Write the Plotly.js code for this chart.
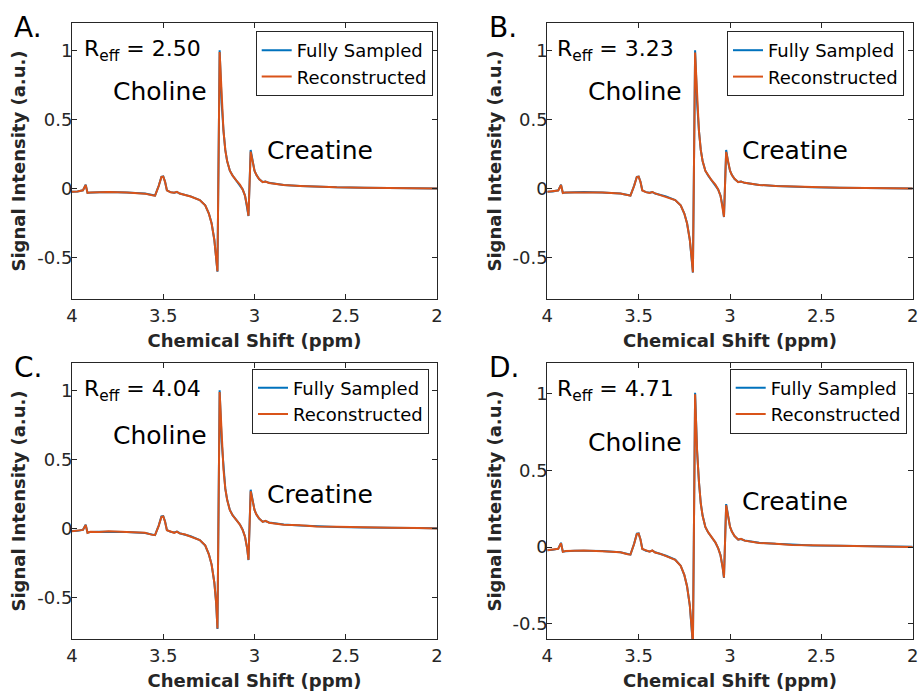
<!DOCTYPE html>
<html>
<head>
<meta charset="utf-8">
<script src="https://cdn.plot.ly/plotly-3.0.1.min.js"></script>
<style>html,body{margin:0;padding:0;background:#fff;}#chart{width:919px;height:691px;}</style>
</head>
<body>
<div id="chart"></div>
<script>
// Chemical shift axis (ppm), shared by all panels
const ppm = [4.00, 3.97, 3.94, 3.925, 3.915, 3.90, 3.85, 3.80, 3.70, 3.60, 3.56, 3.545, 3.525, 3.51, 3.50, 3.49, 3.48, 3.46, 3.44, 3.425, 3.41, 3.38, 3.35, 3.30, 3.27, 3.25, 3.235, 3.22, 3.21, 3.203, 3.191, 3.18, 3.17, 3.16, 3.15, 3.135, 3.12, 3.10, 3.08, 3.065, 3.052, 3.04, 3.033, 3.021, 3.01, 3.00, 2.99, 2.975, 2.955, 2.94, 2.92, 2.88, 2.84, 2.75, 2.66, 2.55, 2.40, 2.25, 2.10, 2.00];

// Panel A (R_eff = 2.50)
const fullyA = [-0.022, -0.020, -0.012, 0.028, -0.030, -0.028, -0.026, -0.025, -0.027, -0.035, -0.046, -0.050, 0.020, 0.086, 0.088, 0.050, -0.012, -0.025, -0.030, -0.024, -0.035, -0.046, -0.056, -0.082, -0.120, -0.180, -0.250, -0.370, -0.500, -0.600, 1.000, 0.620, 0.420, 0.280, 0.200, 0.130, 0.095, 0.060, 0.030, -0.005, -0.050, -0.130, -0.198, 0.280, 0.190, 0.130, 0.100, 0.070, 0.048, 0.052, 0.042, 0.033, 0.027, 0.020, 0.015, 0.010, 0.007, 0.005, 0.003, 0.002];
const reconA = [-0.022, -0.021, -0.012, 0.027, -0.031, -0.028, -0.026, -0.024, -0.027, -0.036, -0.047, -0.050, 0.019, 0.085, 0.087, 0.049, -0.012, -0.026, -0.030, -0.023, -0.035, -0.046, -0.057, -0.083, -0.121, -0.181, -0.251, -0.371, -0.500, -0.598, 0.988, 0.618, 0.419, 0.279, 0.199, 0.130, 0.094, 0.060, 0.030, -0.006, -0.051, -0.131, -0.196, 0.268, 0.189, 0.130, 0.100, 0.070, 0.047, 0.052, 0.041, 0.033, 0.026, 0.020, 0.014, 0.010, 0.007, 0.005, 0.003, 0.002];

// Panel B (R_eff = 3.23)
const fullyB = [-0.022, -0.020, -0.012, 0.028, -0.030, -0.028, -0.026, -0.025, -0.027, -0.035, -0.046, -0.050, 0.020, 0.086, 0.088, 0.050, -0.012, -0.025, -0.030, -0.024, -0.035, -0.046, -0.056, -0.082, -0.120, -0.180, -0.250, -0.370, -0.500, -0.607, 1.000, 0.620, 0.420, 0.280, 0.200, 0.130, 0.095, 0.060, 0.030, -0.005, -0.050, -0.130, -0.205, 0.280, 0.190, 0.130, 0.100, 0.070, 0.048, 0.052, 0.042, 0.033, 0.027, 0.020, 0.015, 0.010, 0.007, 0.005, 0.003, 0.002];
const reconB = [-0.023, -0.020, -0.013, 0.027, -0.031, -0.027, -0.026, -0.025, -0.028, -0.035, -0.047, -0.051, 0.019, 0.084, 0.087, 0.049, -0.013, -0.025, -0.031, -0.024, -0.034, -0.047, -0.056, -0.083, -0.121, -0.180, -0.252, -0.370, -0.501, -0.605, 0.985, 0.617, 0.418, 0.280, 0.199, 0.129, 0.095, 0.059, 0.029, -0.006, -0.051, -0.131, -0.203, 0.266, 0.188, 0.131, 0.099, 0.071, 0.047, 0.051, 0.042, 0.032, 0.027, 0.019, 0.015, 0.009, 0.007, 0.004, 0.003, 0.001];

// Panel C (R_eff = 4.04)
const fullyC = [-0.017, -0.016, -0.008, 0.028, -0.028, -0.025, -0.022, -0.021, -0.024, -0.032, -0.043, -0.047, 0.022, 0.088, 0.090, 0.052, -0.010, -0.022, -0.028, -0.022, -0.033, -0.044, -0.055, -0.082, -0.122, -0.185, -0.260, -0.390, -0.540, -0.725, 1.000, 0.630, 0.430, 0.290, 0.210, 0.135, 0.098, 0.062, 0.030, -0.008, -0.058, -0.145, -0.227, 0.282, 0.195, 0.135, 0.104, 0.073, 0.050, 0.055, 0.045, 0.036, 0.030, 0.022, 0.016, 0.012, 0.009, 0.006, 0.004, 0.003];
const reconC = [-0.018, -0.015, -0.009, 0.026, -0.030, -0.022, -0.024, -0.019, -0.026, -0.030, -0.045, -0.046, 0.020, 0.086, 0.088, 0.050, -0.012, -0.020, -0.030, -0.021, -0.034, -0.042, -0.056, -0.083, -0.121, -0.186, -0.259, -0.391, -0.539, -0.722, 0.988, 0.627, 0.428, 0.289, 0.209, 0.134, 0.097, 0.063, 0.029, -0.009, -0.057, -0.144, -0.225, 0.270, 0.194, 0.136, 0.103, 0.074, 0.049, 0.056, 0.043, 0.038, 0.028, 0.024, 0.015, 0.013, 0.008, 0.007, 0.004, 0.002];

// Panel D (R_eff = 4.71)
const fullyD = [-0.020, -0.018, -0.010, 0.028, -0.030, -0.027, -0.024, -0.023, -0.026, -0.034, -0.045, -0.049, 0.021, 0.087, 0.089, 0.050, -0.011, -0.024, -0.029, -0.023, -0.034, -0.045, -0.056, -0.082, -0.121, -0.182, -0.255, -0.380, -0.520, -0.640, 1.005, 0.625, 0.425, 0.285, 0.205, 0.132, 0.096, 0.061, 0.030, -0.006, -0.052, -0.135, -0.200, 0.280, 0.192, 0.132, 0.102, 0.071, 0.049, 0.053, 0.043, 0.034, 0.028, 0.021, 0.015, 0.011, 0.008, 0.005, 0.003, 0.002];
const reconD = [-0.021, -0.018, -0.011, 0.026, -0.031, -0.026, -0.025, -0.022, -0.027, -0.033, -0.046, -0.048, 0.020, 0.085, 0.087, 0.049, -0.012, -0.023, -0.030, -0.022, -0.035, -0.044, -0.057, -0.083, -0.122, -0.181, -0.256, -0.379, -0.521, -0.638, 0.995, 0.622, 0.424, 0.284, 0.204, 0.131, 0.097, 0.060, 0.031, -0.007, -0.053, -0.134, -0.198, 0.272, 0.191, 0.133, 0.101, 0.072, 0.048, 0.054, 0.042, 0.035, 0.027, 0.022, 0.014, 0.012, 0.007, 0.006, 0.003, 0.001];

const panels = ['A.', 'B.', 'C.', 'D.'];
const reffValues = ['2.50', '3.23', '4.04', '4.71'];
const seriesNames = ['Fully Sampled', 'Reconstructed'];
const xTickVals = [4, 3.5, 3, 2.5, 2];
const xTickText = ['4', '3.5', '3', '2.5', '2'];
const yTickVals = [-0.5, 0, 0.5, 1];
const yTickText = ['-0.5', '0', '0.5', '1'];

const fullySeries = [fullyA, fullyB, fullyC, fullyD];
const reconSeries = [reconA, reconB, reconC, reconD];

const W = 919, H = 691;
const FONT = 'DejaVu Sans';
const TXT = '#262626';
const BLUE = '#0072BD', ORANGE = '#D95319';

// subplot geometry in pixels: [left, right, top, bottom]
const boxes = [
  [72, 437, 22.7, 299.3],
  [547.3, 912.7, 22.7, 299.3],
  [72, 437, 362.7, 639.3],
  [547.3, 912.7, 362.7, 639.3]
];
const yRanges = [[-0.8, 1.2], [-0.8, 1.2], [-0.8, 1.2], [-0.6, 1.2]];
const legendBox = [[432.7, 31], [904, 31], [429, 368.5], [906.7, 368.5]];

const px = v => v / W;
const py = v => 1 - v / H;

const data = [];
const layout = {
  width: W, height: H,
  margin: {l: 0, r: 0, t: 0, b: 0, pad: 0},
  paper_bgcolor: '#fff', plot_bgcolor: '#fff',
  font: {family: FONT, color: TXT, size: 18},
  annotations: []
};

for (let i = 0; i < 4; i++) {
  const sfx = i === 0 ? '' : String(i + 1);
  const xa = 'x' + sfx, ya = 'y' + sfx;
  const leg = 'legend' + sfx;
  data.push({x: ppm, y: fullySeries[i], type: 'scatter', mode: 'lines', name: seriesNames[0],
    xaxis: xa, yaxis: ya, legend: leg, line: {color: BLUE, width: 2}});
  data.push({x: ppm, y: reconSeries[i], type: 'scatter', mode: 'lines', name: seriesNames[1],
    xaxis: xa, yaxis: ya, legend: leg, line: {color: ORANGE, width: 2}});
  const b = boxes[i];
  const axCommon = {
    showline: true, linecolor: TXT, linewidth: 1, mirror: 'ticks',
    ticks: 'inside', ticklen: 5, tickcolor: TXT, tickwidth: 1,
    showgrid: false, zeroline: false,
    tickfont: {family: FONT, size: 18, color: TXT}
  };
  layout['xaxis' + sfx] = Object.assign({}, axCommon, {
    domain: [px(b[0]), px(b[1])], anchor: ya,
    range: [4, 2], tickmode: 'array', tickvals: xTickVals, ticktext: xTickText,
    title: {text: '<b>Chemical Shift (ppm)</b>', font: {family: FONT, size: 18, color: TXT}, standoff: 9}
  });
  layout['yaxis' + sfx] = Object.assign({}, axCommon, {
    domain: [py(b[3]), py(b[2])], anchor: xa,
    range: yRanges[i], tickmode: 'array', tickvals: yTickVals, ticktext: yTickText,
    ticklabelstandoff: -5,
    title: {text: '<b>Signal Intensity (a.u.)</b>', font: {family: FONT, size: 18, color: TXT}, standoff: 6}
  });
  layout[leg] = {
    x: px(legendBox[i][0]), y: py(legendBox[i][1]), xanchor: 'right', yanchor: 'top',
    bgcolor: '#fff', bordercolor: TXT, borderwidth: 1,
    font: {family: FONT, size: 18, color: '#000'}, tracegroupgap: 0
  };
  // panel letter
  layout.annotations.push({xref: 'paper', yref: 'paper', x: px(b[0] - 60), y: py(b[2] + 4.5),
    xanchor: 'left', yanchor: 'middle', showarrow: false, text: panels[i],
    font: {family: FONT, size: 28, color: '#000'}});
  // R_eff
  const isD = i === 3;
  layout.annotations.push({xref: xa, yref: ya, x: (i % 2 === 0) ? 3.945 : 3.958, y: isD ? 1.016 : 1.0,
    xanchor: 'left', yanchor: 'middle', showarrow: false,
    text: 'R<sub>eff</sub> = ' + reffValues[i], font: {family: FONT, size: 22, color: '#000'}});
  // Choline / Creatine
  const cholY = [0.703, 0.703, 0.673, 0.68][i];
  const creaY = [0.273, 0.273, 0.246, 0.299][i];
  layout.annotations.push({xref: xa, yref: ya, x: 3.52, y: cholY, xanchor: 'center', yanchor: 'middle',
    showarrow: false, text: 'Choline', font: {family: FONT, size: 25, color: '#000'}});
  layout.annotations.push({xref: xa, yref: ya, x: 2.642, y: creaY, xanchor: 'center', yanchor: 'middle',
    showarrow: false, text: 'Creatine', font: {family: FONT, size: 25, color: '#000'}});
}

Plotly.newPlot('chart', data, layout, {staticPlot: true, displayModeBar: false});
</script>
</body>
</html>
